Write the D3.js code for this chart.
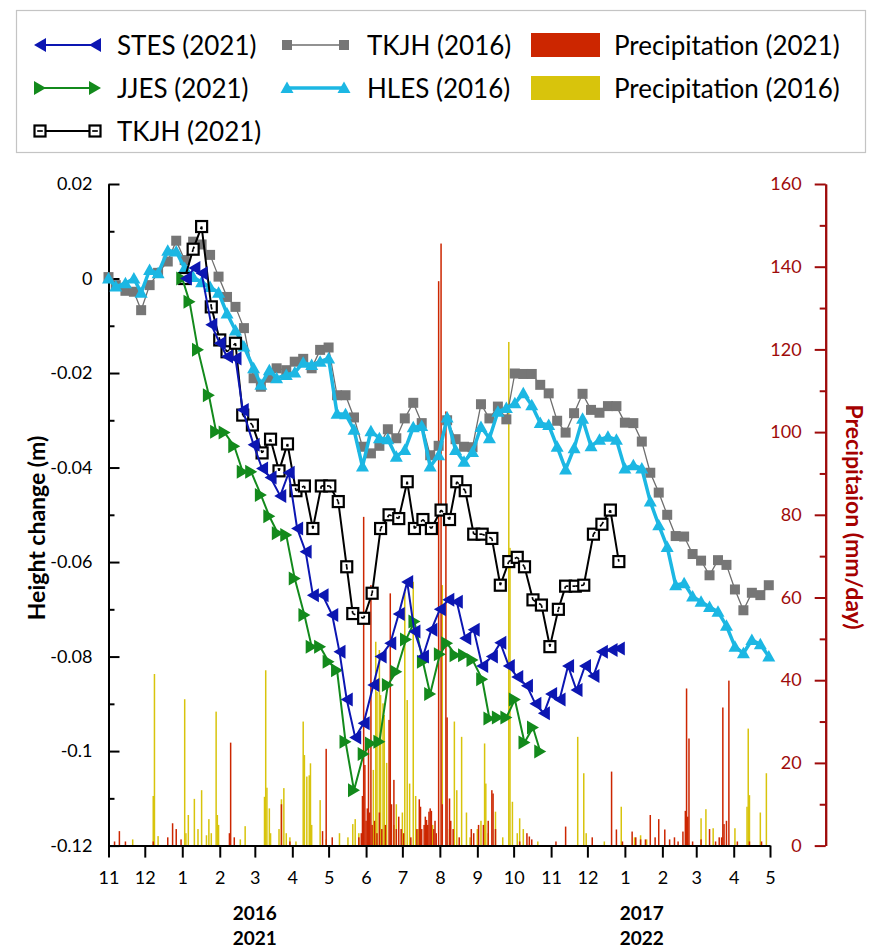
<!DOCTYPE html>
<html><head><meta charset="utf-8">
<script src="https://cdn.jsdelivr.net/npm/d3@7"></script>
<style>body{margin:0;background:#fff;} svg{display:block;font-family:Lato,'Open Sans',sans-serif;}</style>
</head><body><svg id="c" width="871" height="949"></svg>
<script>
// ---------------- DATA (days since 2015-11-01 / 2020-11-01) ----------------
const monthLabels = ["11","12","1","2","3","4","5","6","7","8","9","10","11","12","1","2","3","4","5"];
const yearRow1 = ["2016","2017"];
const yearRow2 = ["2021","2022"];
const leftTickLabels = ["-0.12","-0.1","-0.08","-0.06","-0.04","-0.02","0","0.02"];
const leftTickValues = [-0.12,-0.1,-0.08,-0.06,-0.04,-0.02,0,0.02];
const rightTickValues = [0,20,40,60,80,100,120,140,160];

const hlesDay = [0,6,14,21,27,34,41,49,56,63,70,77,84,91,98,105,112,120,126,133,139,147,154,161,168,175,182,189,196,203,210,217,224,231,238,245,252,259,266,273,280,287,294,301,308,315,322,329,336,343,350,357,364,371,378,385,392,399,406,413,420,427,434,441,448,455,462,469,476,483,490,497,504,511,518,525,532,539,546];
const hlesVal = [0,-0.0017,-0.001,0.0,-0.003,0.0018,0.0011,0.0059,0.0057,
 0.0022,0.0003,-0.0008,-0.0018,-0.003,-0.0074,-0.011,-0.0144,-0.019,-0.0225,
 -0.0194,-0.0211,-0.0204,-0.0199,-0.0178,-0.0183,-0.0176,-0.0169,-0.0286,-0.0287,
 -0.032,-0.0398,-0.0323,-0.0338,-0.034,-0.0377,-0.0363,-0.0315,-0.0312,-0.0398,
 -0.0374,-0.0294,-0.0363,-0.0388,-0.0367,-0.0314,-0.0338,-0.0282,-0.0274,-0.0264,
 -0.0243,-0.0268,-0.0306,-0.031,-0.0356,-0.0404,-0.0359,-0.0297,-0.0355,-0.0341,
 -0.0335,-0.0341,-0.0402,-0.0395,-0.0402,-0.0472,-0.0522,-0.0568,-0.0649,-0.0645,
 -0.0673,-0.0684,-0.0695,-0.0705,-0.0735,-0.0779,-0.0793,-0.0765,-0.0774,-0.08];

const tkjh16Day = hlesDay.slice();
const tkjh16Val = [0.0003,-0.0014,-0.0026,-0.0028,-0.0067,-0.0014,0.0012,0.0036,0.008,
 0.0039,0.0078,0.0072,0.005,0.0004,-0.0039,-0.006,-0.0105,-0.0211,-0.0229,
 -0.021,-0.019,-0.0194,-0.0176,-0.017,-0.019,-0.0151,-0.0146,-0.0247,-0.0247,
 -0.0294,-0.0356,-0.037,-0.0354,-0.0319,-0.0338,-0.0296,-0.0263,-0.0306,-0.0374,
 -0.0354,-0.03,-0.034,-0.0356,-0.0357,-0.0266,-0.0296,-0.0271,-0.0298,-0.0201,
 -0.0202,-0.0202,-0.0225,-0.0243,-0.0301,-0.0326,-0.0285,-0.0244,-0.0278,-0.0284,
 -0.027,-0.027,-0.0305,-0.0306,-0.0345,-0.0411,-0.0453,-0.05,-0.0545,-0.0546,
 -0.0583,-0.0597,-0.0628,-0.0596,-0.0606,-0.0658,-0.0702,-0.0665,-0.067,-0.0649];

const stesDay = [64,71,77,85,92,98,105,111,120,127,134,142,149,156,163,169,177,185,191,197,204,211,219,225,233,240,247,253,260,267,274,281,288,295,302,309,317,324,331,338,346,353,360,366,373,380,387,394,401,408,416,422];
const stesVal = [0.0,0.0022,0.0011,-0.0098,-0.0137,-0.0165,-0.0169,-0.0278,-0.0352,-0.0402,
 -0.0421,-0.046,-0.0411,-0.0529,-0.0578,-0.067,-0.067,-0.0712,-0.079,-0.0891,
 -0.0971,-0.0941,-0.086,-0.08,-0.0772,-0.071,-0.0642,-0.0747,-0.08,-0.0743,
 -0.07,-0.068,-0.0684,-0.0761,-0.0743,-0.082,-0.08,-0.0771,-0.082,-0.0843,
 -0.0862,-0.09,-0.092,-0.0879,-0.0891,-0.082,-0.0871,-0.082,-0.0841,-0.079,
 -0.0786,-0.0783];

const jjesDay = [61,67,74,83,89,96,104,111,118,126,133,140,147,154,162,168,175,182,189,196,203,211,217,224,231,238,246,253,260,266,274,280,287,294,301,309,315,322,329,336,344,351,357];
const jjesVal = [0.0,-0.0049,-0.0151,-0.0247,-0.0324,-0.0326,-0.0355,-0.0409,-0.0409,-0.0458,
 -0.0503,-0.0539,-0.0543,-0.0635,-0.0712,-0.0779,-0.0779,-0.0811,-0.0829,-0.098,
 -0.1083,-0.1006,-0.0984,-0.098,-0.086,-0.0832,-0.0764,-0.0726,-0.0811,-0.0879,
 -0.0795,-0.0772,-0.0797,-0.0797,-0.0807,-0.0848,-0.0931,-0.0929,-0.0929,-0.0891,
 -0.0982,-0.095,-0.1001];

const tkjh21Day = [63,70,77,85,92,98,105,111,119,127,134,141,148,155,162,169,176,183,190,197,202,211,218,225,232,240,247,253,260,267,275,282,288,295,302,309,317,324,331,338,344,351,358,365,372,378,386,393,401,408,415,422];
const tkjh21Val = [0.0,0.0062,0.011,-0.006,-0.013,-0.0155,-0.0137,-0.0289,-0.031,-0.0369,
 -0.034,-0.0407,-0.035,-0.0449,-0.0439,-0.0529,-0.0439,-0.0439,-0.0472,-0.061,
 -0.0709,-0.0719,-0.0666,-0.0529,-0.05,-0.0508,-0.043,-0.0529,-0.051,-0.0529,
 -0.049,-0.051,-0.043,-0.0449,-0.0541,-0.0541,-0.055,-0.0649,-0.0599,-0.059,
 -0.061,-0.068,-0.0691,-0.0779,-0.07,-0.0651,-0.0651,-0.0649,-0.0541,-0.052,
 -0.049,-0.0599];

// precipitation (mm/day): day, amount
const rain2021Day = [5,9,14,37,49,53,56,60,100,101,104,143,150,177,180,185,207,209,210,211,212,213,214,215,216,217,218,220,222,224,226,229,232,233,234,236,238,240,242,244,250,255,257,258,259,261,262,263,264,265,266,267,269,270,271,273,275,276,279,280,282,283,285,290,300,302,306,310,314,317,318,320,340,346,348,350,370,378,400,416,420,425,433,436,440,444,448,452,455,460,464,468,471,475,477,478,479,480,483,490,497,502,505,507,508,509,511,513,520,530,540];
const rain2021Mm  = [1,3.5,1,1,2,5.4,4,1.5,3,24.9,2,10,1,3.5,23.4,2,2,3,12,79.5,19.5,6,9,25,8,63,5,6,3,8,4,5,30.4,61,10,15.9,4,7,4,3,2,4,11.2,9.4,4,5,7,6.2,5,8.2,9,8.4,4,6,3,136.5,145.6,10,105,31,11.4,6,4,2,4,3,5,5,6,13.4,12.6,4,1,3,2.2,1.5,1,4.6,2,17.9,3.9,1,3.4,2,1.5,1.5,7.4,2,6.4,3.9,1.5,2,1,3.4,8.4,38,7,25.9,1,1.5,4,1,2,2,33.4,5.2,6,39.9,1,1,1];
const rain2016Day = [20,37,38,41,63,64,66,71,74,77,81,83,85,89,90,91,109,113,129,130,131,133,134,141,143,145,147,150,155,161,162,164,166,167,168,175,180,191,198,202,204,207,219,221,222,224,225,227,228,230,236,238,243,245,247,249,252,254,256,262,268,276,282,286,288,292,296,299,305,308,311,312,314,320,326,331,332,334,338,340,343,355,388,393,395,410,424,435,440,445,490,494,500,518,528,529,530,539,544];
const rain2016Mm  = [1.5,12,41.5,2.3,35.4,3,7.4,11.3,4,13.4,2.5,6.4,3,32.4,7.4,5,1.5,4.7,11.8,42.4,14,9,3,4,11.2,13.9,3,2,1,30,21.9,16.7,17,19.9,5,11,1.5,3,2,5.2,6.4,3,18.3,49.3,37.2,47.3,36.4,34.4,31.6,20,5,10,8,61.4,35.2,15,63.8,12,4,3,5,63,4,30,13.4,26.3,8,2,4,6,24.7,15,3,8.2,2,121.8,72,10.6,3,6.6,4,1,26.3,17.5,3,1,9.4,2,2.5,1.5,6.6,8.8,4.2,4.2,9.4,28.3,12.2,8,17.5];

// ---------------- CHART ----------------
const svg = d3.select("#c");
const T0 = new Date(Date.UTC(2015,10,1));
const T1 = new Date(Date.UTC(2017,4,1));
const dt = d => d3.utcDay.offset(T0, d);
const x = d3.scaleUtc().domain([T0, T1]).range([108.5, 770]);
const yL = d3.scaleLinear().domain([-0.12, 0.02]).range([845.6, 184]);
const yR = d3.scaleLinear().domain([0, 160]).range([845.6, 184]);

const RED = "#cc2600", YEL = "#d8c40c", AXR = "#9e0b0b";

// precipitation bars
function bars(days, mm, color){
  svg.append("g").selectAll("rect").data(days.map((d,i)=>({d, v:mm[i]}))).join("rect")
    .attr("x", p => x(dt(p.d)) - 0.75).attr("width", 1.5)
    .attr("y", p => yR(p.v)).attr("height", p => yR(0) - yR(p.v))
    .attr("fill", color);
}
bars(rain2016Day, rain2016Mm, YEL);
bars(rain2021Day, rain2021Mm, RED);

// axes
const gL = svg.append("g").attr("transform","translate(108.5,0)")
  .call(d3.axisLeft(yL).tickValues(leftTickValues).tickSizeInner(-11).tickSizeOuter(0).tickPadding(16)
    .tickFormat((d,i)=>leftTickLabels[i]));
svg.append("g").attr("transform","translate(108.5,0)")
  .call(d3.axisLeft(yL).tickValues([-0.11,-0.09,-0.07,-0.05,-0.03,-0.01,0.01]).tickSizeInner(-6).tickSizeOuter(0).tickFormat(""));
const gR = svg.append("g").attr("transform","translate(825.7,0)")
  .call(d3.axisLeft(yR).tickValues(rightTickValues).tickSizeInner(11).tickSizeOuter(0).tickPadding(13));
const gR2 = svg.append("g").attr("transform","translate(825.7,0)")
  .call(d3.axisLeft(yR).tickValues([10,30,50,70,90,110,130,150]).tickSizeInner(6).tickSizeOuter(0).tickFormat(""));
const months = d3.utcMonth.range(T0, d3.utcDay.offset(T1,1));
const gX = svg.append("g").attr("transform","translate(0,845.6)")
  .call(d3.axisBottom(x).tickValues(months).tickSizeInner(12).tickSizeOuter(0).tickPadding(14)
    .tickFormat((d,i)=>monthLabels[i]));

svg.selectAll(".domain").attr("stroke-width",2);
svg.selectAll(".tick line").attr("stroke-width",2);
svg.selectAll("g").attr("font-family","Lato");
gL.selectAll("text").attr("font-size",18).attr("fill","#000");
gX.selectAll("text").attr("font-size",18).attr("fill","#000");
gR.selectAll("text").attr("font-size",18).attr("fill",AXR);
[gR, gR2].forEach(g=>g.selectAll("line,path").attr("stroke",AXR));

// year labels
const yearX = [dt(121), dt(441)];
svg.append("g").selectAll("text").data(yearRow1).join("text")
  .attr("x",(d,i)=>x(yearX[i])).attr("y",912).attr("text-anchor","middle").attr("dominant-baseline","central")
  .attr("font-size",19).attr("font-weight","bold").text(d=>d);
svg.append("g").selectAll("text").data(yearRow2).join("text")
  .attr("x",(d,i)=>x(yearX[i])).attr("y",937).attr("text-anchor","middle").attr("dominant-baseline","central")
  .attr("font-size",19).attr("font-weight","bold").text(d=>d);

// axis titles
svg.append("text").attr("transform","translate(36,528) rotate(-90)")
  .attr("text-anchor","middle").attr("dominant-baseline","central")
  .attr("font-size",23).attr("font-weight","bold").text("Height change (m)");
svg.append("text").attr("transform","translate(855,517) rotate(90)")
  .attr("text-anchor","middle").attr("dominant-baseline","central")
  .attr("font-size",23).attr("font-weight","bold").attr("fill","#a50000").text("Precipitaion (mm/day)");

// series
const shapes = {
  left: "M-6,0L6,-7L6,7Z",
  right: "M6,0L-6,-7L-6,7Z",
  up: "M0,-6.5L6.5,5L-6.5,5Z"
};
function drawMarker(g, type, color, cx, cy, pts, i){
  if (type === "sqfill") {
    g.append("rect").attr("x",cx-5).attr("y",cy-5).attr("width",10).attr("height",10).attr("fill",color);
  } else if (type === "sqopen") {
    g.append("rect").attr("x",cx-5.5).attr("y",cy-5.5).attr("width",11).attr("height",11)
      .attr("fill","#fff").attr("stroke","#000").attr("stroke-width",2.2);
    const nb = pts ? [pts[i-1], pts[i+1]].filter(Boolean) : [[cx-10,cy],[cx+10,cy]];
    nb.forEach(p=>{
      const dx=p[0]-cx, dy=p[1]-cy, L=Math.hypot(dx,dy)||1;
      g.append("line").attr("x1",cx).attr("y1",cy).attr("x2",cx+dx/L*2.8).attr("y2",cy+dy/L*2.8)
        .attr("stroke","#000").attr("stroke-width",1.7);
    });
  } else {
    g.append("path").attr("d",shapes[type]).attr("transform",`translate(${cx},${cy})`).attr("fill",color);
  }
}
const series = [
  {day:tkjh16Day, val:tkjh16Val, color:"#6e6e6e", mcolor:"#767676", lw:1.3, marker:"sqfill"},
  {day:hlesDay,   val:hlesVal,   color:"#1cb7e3", mcolor:"#1cb7e3", lw:3.5, marker:"up"},
  {day:tkjh21Day, val:tkjh21Val, color:"#000000", mcolor:"#000",    lw:2,   marker:"sqopen"},
  {day:jjesDay,   val:jjesVal,   color:"#138a1c", mcolor:"#138a1c", lw:2,   marker:"right"},
  {day:stesDay,   val:stesVal,   color:"#0c16b2", mcolor:"#0c16b2", lw:2,   marker:"left"}
];
const line = d3.line();
series.forEach(s=>{
  const pts = s.day.map((d,i)=>[x(dt(d)), yL(s.val[i])]);
  const g = svg.append("g");
  g.append("path").attr("d",line(pts)).attr("fill","none").attr("stroke",s.color).attr("stroke-width",s.lw)
    .attr("stroke-linejoin","round");
  pts.forEach((p,i)=>drawMarker(g, s.marker, s.mcolor, p[0], p[1], pts, i));
});

// legend
const lg = svg.append("g");
lg.append("rect").attr("x",16.5).attr("y",10.5).attr("width",849).attr("height",142)
  .attr("fill","#fff").attr("stroke","#c4c4c4").attr("stroke-width",1.2);
const legendItems = [
  {label:"STES (2021)", col:0, row:0, s:series[4]},
  {label:"JJES (2021)", col:0, row:1, s:series[3]},
  {label:"TKJH (2021)", col:0, row:2, s:series[2]},
  {label:"TKJH (2016)", col:1, row:0, s:series[0]},
  {label:"HLES (2016)", col:1, row:1, s:series[1]},
  {label:"Precipitation (2021)", col:2, row:0, rect:RED},
  {label:"Precipitation (2016)", col:2, row:1, rect:YEL}
];
const colSym = [[40,95],[287,344],[531,600]], colText=[117,367,614], rowY=[45,88,131];
legendItems.forEach(it=>{
  const cy = rowY[it.row];
  if (it.rect) {
    lg.append("rect").attr("x",colSym[2][0]).attr("y",cy-12).attr("width",69).attr("height",24).attr("fill",it.rect);
  } else {
    const [a,b] = colSym[it.col];
    lg.append("line").attr("x1",a).attr("x2",b).attr("y1",cy).attr("y2",cy)
      .attr("stroke",it.s.color).attr("stroke-width",it.s.lw);
    drawMarker(lg, it.s.marker, it.s.mcolor, a, cy, null, 0);
    drawMarker(lg, it.s.marker, it.s.mcolor, b, cy, null, 0);
  }
  lg.append("text").attr("x",colText[it.col]).attr("y",cy).attr("dominant-baseline","central")
    .attr("font-size",26).text(it.label);
});
</script></body></html>
